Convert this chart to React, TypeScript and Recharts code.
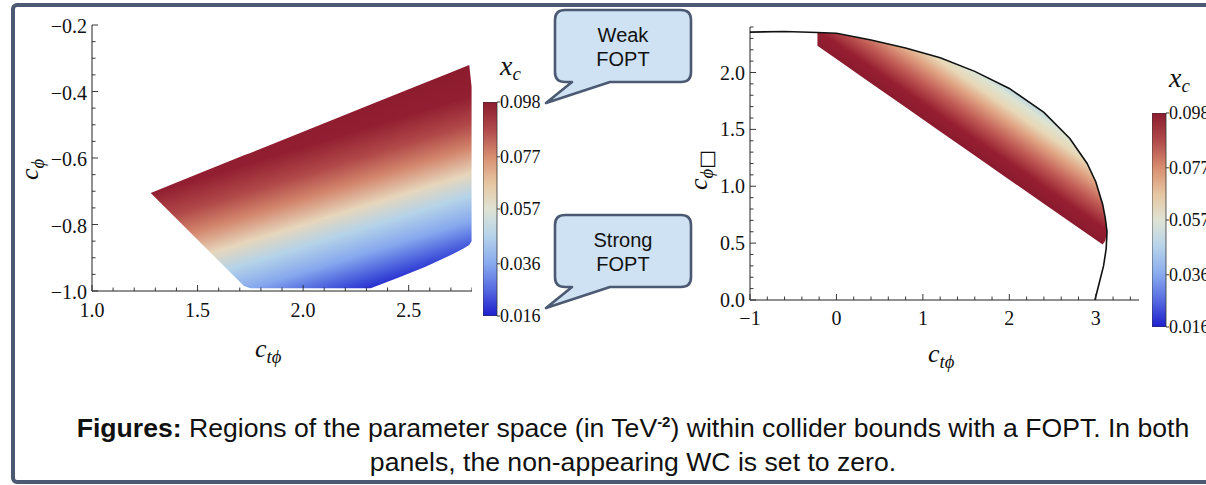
import React from 'react';
import { ComposedChart, Area, Scatter, XAxis, YAxis, BarChart, Bar } from 'recharts';

// left panel: region in the (c_tphi, c_phi) plane, low / high edge at each c_tphi
const leftCtp = [1.278, 1.5, 1.72, 1.75, 2.0, 2.32, 2.45, 2.58, 2.69, 2.76, 2.787, 2.798];
const leftLow = [-0.705, -0.846, -0.985, -0.992, -0.992, -0.992, -0.96, -0.927, -0.895, -0.872, -0.862, -0.85];
const leftHigh = [-0.705, -0.648, -0.592, -0.585, -0.521, -0.439, -0.406, -0.373, -0.345, -0.327, -0.32, -0.385];

// right panel: region in the (c_tphi, c_phibox) plane
const rightCtp = [-0.22, 0.0, 0.4, 0.8, 1.2, 1.6, 2.0, 2.4, 2.7, 2.9, 3.0, 3.08, 3.11, 3.13];
const rightLow = [2.235, 2.118, 1.906, 1.694, 1.482, 1.27, 1.058, 0.846, 0.688, 0.582, 0.529, 0.487, 0.52, 0.6];
const rightHigh = [2.352, 2.345, 2.285, 2.215, 2.13, 2.01, 1.86, 1.65, 1.42, 1.2, 1.04, 0.84, 0.72, 0.62];

// collider bound (black curve)
const boundX = [-1.0, -0.6, -0.22, 0.0, 0.4, 0.8, 1.2, 1.6, 2.0, 2.4, 2.7, 2.9, 3.0, 3.08, 3.11, 3.13, 3.12, 3.09, 3.04, 2.99];
const boundY = [2.355, 2.36, 2.352, 2.345, 2.285, 2.215, 2.13, 2.01, 1.86, 1.65, 1.42, 1.2, 1.04, 0.84, 0.72, 0.6, 0.45, 0.3, 0.15, 0.0];

// axis ticks
const leftXTicks = [1.0, 1.1, 1.2, 1.3, 1.4, 1.5, 1.6, 1.7, 1.8, 1.9, 2.0, 2.1, 2.2, 2.3, 2.4, 2.5, 2.6, 2.7, 2.8];
const leftXMajor = [1.0, 1.5, 2.0, 2.5];
const leftYTicks = [-1.0, -0.95, -0.9, -0.85, -0.8, -0.75, -0.7, -0.65, -0.6, -0.55, -0.5, -0.45, -0.4, -0.35, -0.3, -0.25, -0.2];
const leftYMajor = [-1.0, -0.8, -0.6, -0.4, -0.2];
const rightXTicks = [-1.0, -0.8, -0.6, -0.4, -0.2, 0, 0.2, 0.4, 0.6, 0.8, 1.0, 1.2, 1.4, 1.6, 1.8, 2.0, 2.2, 2.4, 2.6, 2.8, 3.0, 3.2, 3.4];
const rightXMajor = [-1, 0, 1, 2, 3];
const rightYTicks = [0, 0.1, 0.2, 0.3, 0.4, 0.5, 0.6, 0.7, 0.8, 0.9, 1.0, 1.1, 1.2, 1.3, 1.4, 1.5, 1.6, 1.7, 1.8, 1.9, 2.0, 2.1, 2.2, 2.3, 2.4];
const rightYMajor = [0, 0.5, 1.0, 1.5, 2.0];
const xcTicks = [0.016, 0.036, 0.057, 0.077, 0.098];

const leftData = leftCtp.map((x, i) => ({ x, range: [leftLow[i], leftHigh[i]] }));
const rightData = rightCtp.map((x, i) => ({ x, range: [rightLow[i], rightHigh[i]] }));
const boundData = boundX.map((x, i) => ({ x, y: boundY[i] }));
const barData = [{ k: 'xc', v: [xcTicks[0], xcTicks[xcTicks.length - 1]] }];

const SERIF = '"Liberation Serif", "DejaVu Serif", serif';
const SANS = '"Liberation Sans", Arial, sans-serif';
const FRAME = '#4b5a72';

const minus = (s: string) => s.replace('-', '\u2212');
const fmt1 = (v: number) => minus(v.toFixed(1));
const fmt0 = (v: number) => minus(v.toFixed(0));

function frameTick(side: string, majors: number[], fmt: ((v: number) => string) | null, ldy = 0) {
  return (props: any) => {
    const { x, y, payload } = props;
    const v = payload.value;
    const major = majors.some((m) => Math.abs(m - v) < 1e-9);
    const len = major ? 6 : 3.5;
    let l = { x1: x, y1: y, x2: x, y2: y };
    if (side === 'b') l.y2 = y - len;
    if (side === 't') l.y2 = y + len;
    if (side === 'l') l.x2 = x + len;
    if (side === 'r') l.x2 = x - len;
    return (
      <g>
        <line {...l} stroke="#222" strokeWidth={0.9} />
        {major && fmt && side === 'b' && (
          <text x={x} y={y + ldy} textAnchor="middle" fontFamily={SERIF} fontSize={20} fill="#111">
            {fmt(v)}
          </text>
        )}
        {major && fmt && side === 'l' && (
          <text x={x - 5} y={y + ldy} textAnchor="end" fontFamily={SERIF} fontSize={20} fill="#111">
            {fmt(v)}
          </text>
        )}
      </g>
    );
  };
}

const barTick = (props: any) => {
  const { x, y, payload } = props;
  return (
    <g>
      <line x1={x} y1={y} x2={x + 3} y2={y} stroke="#222" strokeWidth={0.9} />
      <text x={x + 3} y={y + 6} fontFamily={SERIF} fontSize={18} fill="#111">
        {payload.value.toFixed(3)}
      </text>
    </g>
  );
};

const axisLine = { stroke: '#222', strokeWidth: 1 };

const ColorBar = ({ left, top, id }: { left: number; top: number; id: string }) => (
  <div style={{ position: 'absolute', left, top }}>
    <BarChart width={90} height={240} data={barData} margin={{ top: 10, right: 0, bottom: 16, left: 0 }} barCategoryGap={0}>
      <defs>
        <linearGradient id={id} x1="0" y1="0" x2="0" y2="1">
          <stop offset="0" stopColor="#8b1c2e" />
          <stop offset="0.13" stopColor="#b04a4b" />
          <stop offset="0.256" stopColor="#d88e70" />
          <stop offset="0.38" stopColor="#e6c6a2" />
          <stop offset="0.5" stopColor="#dfe3d4" />
          <stop offset="0.62" stopColor="#b8d4ea" />
          <stop offset="0.756" stopColor="#88aaee" />
          <stop offset="0.88" stopColor="#5468e0" />
          <stop offset="1" stopColor="#1e1ecc" />
        </linearGradient>
      </defs>
      <XAxis dataKey="k" hide height={0} />
      <YAxis
        orientation="right"
        type="number"
        width={76}
        domain={[xcTicks[0], xcTicks[xcTicks.length - 1]]}
        ticks={xcTicks}
        interval={0}
        allowDataOverflow
        axisLine={false}
        tickLine={false}
        tickSize={0}
        tickMargin={0}
        tick={barTick}
      />
      <Bar dataKey="v" fill={`url(#${id})`} stroke="#333" strokeWidth={0.8} isAnimationActive={false} />
    </BarChart>
  </div>
);

const Callout = ({ top, lines }: { top: number; lines: string[] }) => {
  const l = 555, r = 691, t = top, b = top + 72, rad = 10;
  const d = `M ${l + rad} ${t} H ${r - rad} Q ${r} ${t} ${r} ${t + rad} V ${b - rad} Q ${r} ${b} ${r - rad} ${b} H 610 L 546 ${b + 21} L 572 ${b} H ${l + rad} Q ${l} ${b} ${l} ${b - rad} V ${t + rad} Q ${l} ${t} ${l + rad} ${t} Z`;
  return (
    <>
      <svg style={{ position: 'absolute', left: 0, top: 0, overflow: 'visible' }} width={1} height={1}>
        <path d={d} fill="#cfe2f3" stroke={FRAME} strokeWidth={2.6} strokeLinejoin="round" />
      </svg>
      <div style={{ position: 'absolute', left: l, top: t + 13, width: r - l, textAlign: 'center', fontFamily: SANS, fontSize: 20, lineHeight: '24px', color: '#111' }}>
        {lines[0]}
        <br />
        {lines[1]}
      </div>
    </>
  );
};

const Sym = ({ left, top, sub, box, rotate, size = 26 }: { left: number; top: number; sub: string; box?: boolean; rotate?: boolean; size?: number }) => (
  <div
    style={{
      position: 'absolute',
      left,
      top,
      fontFamily: SERIF,
      fontStyle: 'italic',
      fontSize: size,
      lineHeight: 1,
      whiteSpace: 'nowrap',
      color: '#111',
      transform: rotate ? 'rotate(-90deg)' : undefined,
      transformOrigin: 'left top',
    }}
  >
    c
    <span style={{ fontSize: size * 0.72, position: 'relative', top: size * 0.22 }}>
      {sub}
      {box && (
        <span style={{ fontFamily: '"DejaVu Sans", sans-serif', fontStyle: 'normal', fontSize: size * 0.75, color: '#111' }}>{'\u25a1'}</span>
      )}
    </span>
  </div>
);

const XcLabel = ({ left, top }: { left: number; top: number }) => (
  <div style={{ position: 'absolute', left, top, fontFamily: SERIF, fontStyle: 'italic', fontSize: 28, lineHeight: 1, color: '#111' }}>
    x<span style={{ fontSize: 19, position: 'relative', top: 5 }}>c</span>
  </div>
);

const App = () => {
  return (
    <div style={{ position: 'absolute', left: 0, top: 0, width: 1206, height: 485, overflow: 'hidden', background: '#fff' }}>
      <div
        style={{
          position: 'absolute',
          left: 11,
          top: 3,
          width: 1300,
          height: 481,
          boxSizing: 'border-box',
          border: `4.5px solid ${FRAME}`,
          borderRadius: 6,
        }}
      />

      {/* left panel */}
      <div style={{ position: 'absolute', left: 0, top: 0 }}>
        <ComposedChart width={472} height={331} data={leftData} margin={{ top: 25, right: 0, bottom: 0, left: 0 }}>
          <defs>
            <linearGradient id="gradLeft" x1="0.991" y1="0" x2="1.318" y2="0.746">
              <stop offset="0" stopColor="#8c1b2e" />
              <stop offset="0.16" stopColor="#921f31" />
              <stop offset="0.3" stopColor="#b04848" />
              <stop offset="0.42" stopColor="#d3866c" />
              <stop offset="0.55" stopColor="#e6d6bc" />
              <stop offset="0.66" stopColor="#b5d3e8" />
              <stop offset="0.79" stopColor="#86a8ee" />
              <stop offset="0.92" stopColor="#3f52da" />
              <stop offset="1" stopColor="#1e1ec8" />
            </linearGradient>
          </defs>
          <XAxis xAxisId="b" dataKey="x" type="number" domain={[1.0, 2.8]} ticks={leftXTicks} interval={0} allowDataOverflow height={40}
            axisLine={axisLine} tickLine={false} tickSize={0} tickMargin={0} tick={frameTick('b', leftXMajor, fmt1, 26)} />
          <XAxis xAxisId="t" orientation="top" dataKey="x" type="number" domain={[1.0, 2.8]} ticks={leftXTicks} interval={0} allowDataOverflow height={0}
            axisLine={axisLine} tickLine={false} tickSize={0} tickMargin={0} tick={frameTick('t', leftXMajor, null)} />
          <YAxis yAxisId="l" type="number" domain={[-1.0, -0.2]} ticks={leftYTicks} interval={0} allowDataOverflow width={92}
            axisLine={axisLine} tickLine={false} tickSize={0} tickMargin={0} tick={frameTick('l', leftYMajor, fmt1, 8)} />
          <YAxis yAxisId="r" orientation="right" type="number" domain={[-1.0, -0.2]} ticks={leftYTicks} interval={0} allowDataOverflow width={0}
            axisLine={axisLine} tickLine={false} tickSize={0} tickMargin={0} tick={frameTick('r', leftYMajor, null)} />
          <Area xAxisId="b" yAxisId="l" type="linear" dataKey="range" stroke="none" fill="url(#gradLeft)" fillOpacity={1} isAnimationActive={false} />
          <Area xAxisId="t" yAxisId="r" type="linear" dataKey="range" stroke="none" fill="none" isAnimationActive={false} />
        </ComposedChart>
      </div>
      <ColorBar left={483} top={92} id="cbLeft" />
      <XcLabel left={500} top={52} />
      <Sym left={17} top={180} sub={'\u03d5'} rotate />
      <Sym left={255} top={336} sub={'t\u03d5'} />

      {/* right panel */}
      <div style={{ position: 'absolute', left: 650, top: 0 }}>
        <ComposedChart width={489} height={340} data={rightData} margin={{ top: 27, right: 0, bottom: 0, left: 0 }}>
          <defs>
            <linearGradient id="gradRight" x1="0.5" y1="0.54" x2="0.722" y2="0.304">
              <stop offset="0" stopColor="#8b1a2e" />
              <stop offset="0.18" stopColor="#961f31" />
              <stop offset="0.4" stopColor="#c25d56" />
              <stop offset="0.6" stopColor="#e0a383" />
              <stop offset="0.75" stopColor="#e8d7b6" />
              <stop offset="0.88" stopColor="#dde3d2" />
              <stop offset="1" stopColor="#b3d3e6" />
            </linearGradient>
          </defs>
          <XAxis xAxisId="b" dataKey="x" type="number" domain={[-1, 3.5]} ticks={rightXTicks} interval={0} allowDataOverflow height={40}
            axisLine={axisLine} tickLine={false} tickSize={0} tickMargin={0} tick={frameTick('b', rightXMajor, fmt0, 25)} />
          <XAxis xAxisId="t" orientation="top" dataKey="x" type="number" domain={[-1, 3.5]} ticks={rightXTicks} interval={0} allowDataOverflow height={0}
            axisLine={axisLine} tickLine={false} tickSize={0} tickMargin={0} tick={frameTick('t', rightXMajor, null)} />
          <YAxis yAxisId="l" dataKey="y" type="number" domain={[0, 2.4]} ticks={rightYTicks} interval={0} allowDataOverflow width={100}
            axisLine={axisLine} tickLine={false} tickSize={0} tickMargin={0} tick={frameTick('l', rightYMajor, fmt1, 7)} />
          <YAxis yAxisId="r" orientation="right" dataKey="y" type="number" domain={[0, 2.4]} ticks={rightYTicks} interval={0} allowDataOverflow width={0}
            axisLine={axisLine} tickLine={false} tickSize={0} tickMargin={0} tick={frameTick('r', rightYMajor, null)} />
          <Area xAxisId="b" yAxisId="l" type="linear" dataKey="range" stroke="none" fill="url(#gradRight)" fillOpacity={1} isAnimationActive={false} />
          <Area xAxisId="t" yAxisId="r" type="linear" dataKey="range" stroke="none" fill="none" isAnimationActive={false} />
          <Scatter xAxisId="b" yAxisId="l" data={boundData} line={{ stroke: '#111', strokeWidth: 1.6 }} lineType="joint" shape={() => <g />} isAnimationActive={false} />
        </ComposedChart>
      </div>
      <ColorBar left={1152} top={103} id="cbRight" />
      <XcLabel left={1169} top={64} />
      <Sym left={686} top={190} sub={'\u03d5'} box rotate />
      <Sym left={928} top={341} sub={'t\u03d5'} />

      <Callout top={10} lines={['Weak', 'FOPT']} />
      <Callout top={215} lines={['Strong', 'FOPT']} />

      <div style={{ position: 'absolute', left: 0, top: 413, width: 1266, textAlign: 'center', fontFamily: SANS, fontSize: 26.6, lineHeight: '30px', color: '#111' }}>
        <b>Figures:</b> Regions of the parameter space (in TeV
        <span style={{ fontSize: 15, fontWeight: 700, position: 'relative', top: -10 }}>-2</span>) within collider bounds with a FOPT. In both
        <br />
        panels, the non-appearing WC is set to zero.
      </div>
    </div>
  );
};

export default App;
